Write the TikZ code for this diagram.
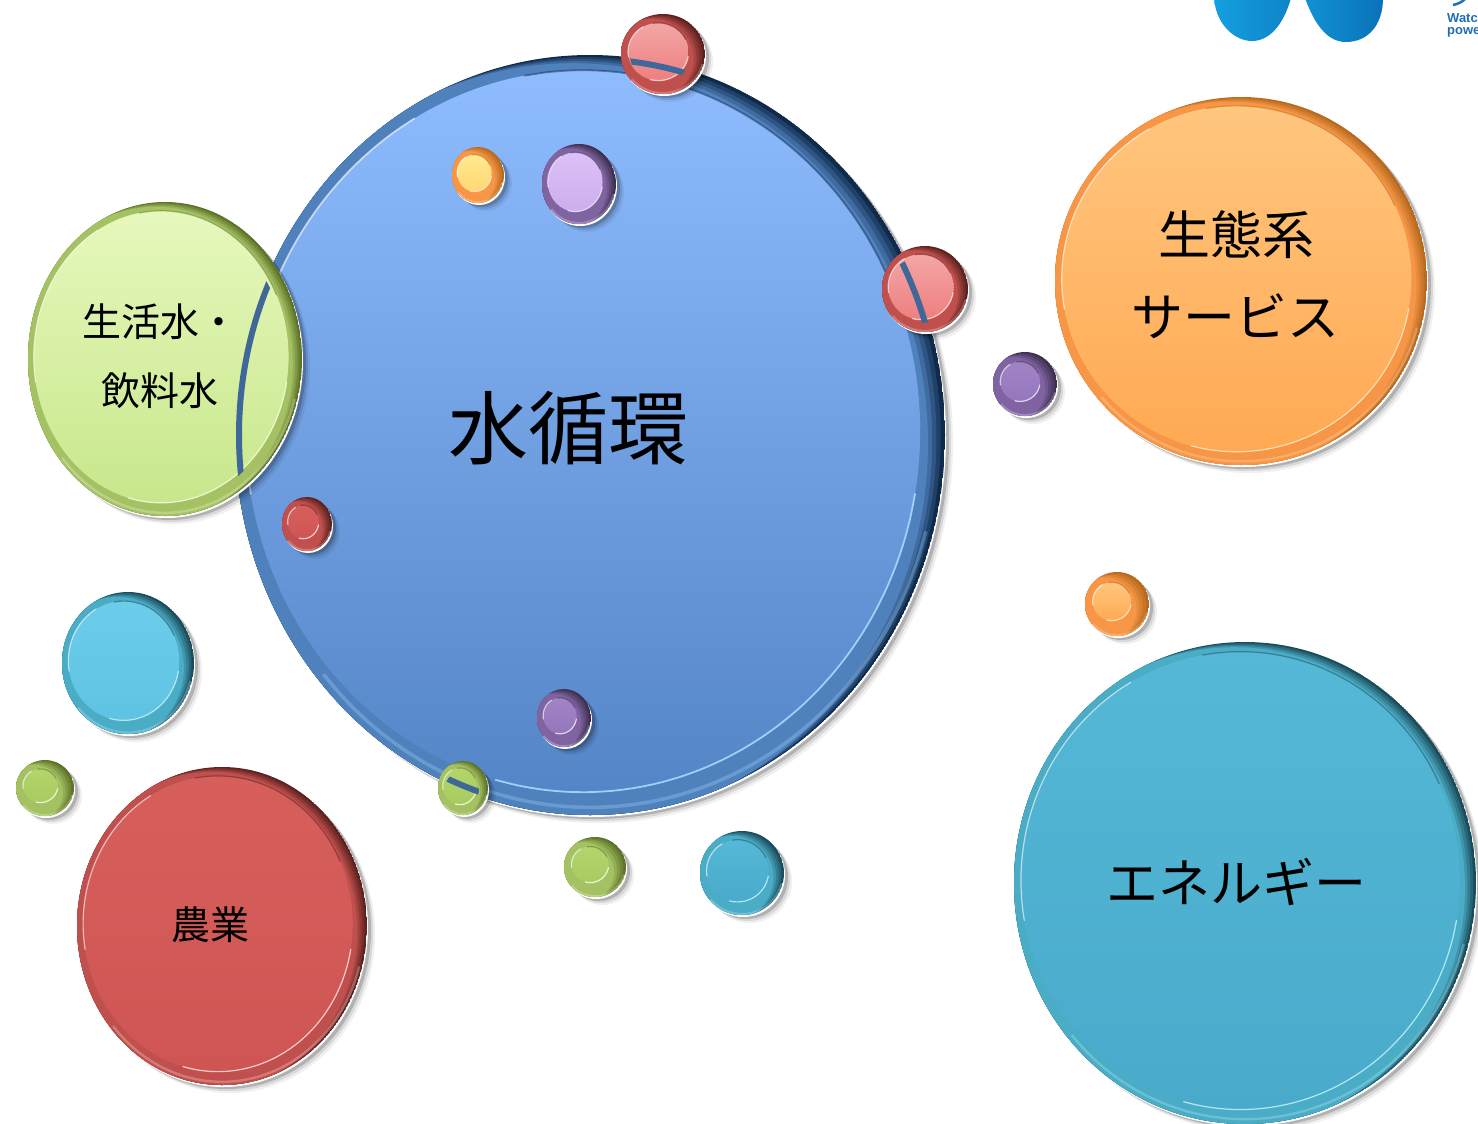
\documentclass[tikz,border=0pt]{standalone}
\usepackage{fontspec}
\setmainfont{Noto Sans CJK JP}
\newfontfamily\logofont{Liberation Sans}
% rims: rim colour, dark side, light edge
\definecolor{bluerim}{HTML}{4F81BD}\definecolor{bluedark}{HTML}{0F2A4A}\definecolor{bluelight}{HTML}{A9D8FF}
\definecolor{limerim}{HTML}{A4C263}\definecolor{limedark}{HTML}{5F7428}\definecolor{limelight}{HTML}{F2FAD8}
\definecolor{orangerim}{HTML}{F79646}\definecolor{orangedark}{HTML}{B86A1F}\definecolor{orangelight}{HTML}{FFE3B8}
\definecolor{cyanrim}{HTML}{4BACC6}\definecolor{cyandark}{HTML}{1B4E5C}\definecolor{cyanlight}{HTML}{B8F0FA}
\definecolor{redrim}{HTML}{C0504D}\definecolor{reddark}{HTML}{5E2220}\definecolor{redlight}{HTML}{FFD8D8}
\definecolor{purplerim}{HTML}{8064A2}\definecolor{purpledark}{HTML}{3F3151}\definecolor{purplelight}{HTML}{EBDDFA}
% bodies: top and bottom of the gradient
\definecolor{skytop}{HTML}{8EBCFF}\definecolor{skybot}{HTML}{5485C6}
\definecolor{paletop}{HTML}{E6F8BC}\definecolor{palebot}{HTML}{C8E78C}
\definecolor{ambertop}{HTML}{FFC67E}\definecolor{amberbot}{HTML}{FFA953}
\definecolor{seatop}{HTML}{54B8D6}\definecolor{seabot}{HTML}{4AAACB}
\definecolor{aquatop}{HTML}{6CCDEA}\definecolor{aquabot}{HTML}{5EC3E2}
\definecolor{bricktop}{HTML}{D65F5C}\definecolor{brickbot}{HTML}{CE5553}
\definecolor{pinktop}{HTML}{F3A6A6}\definecolor{pinkbot}{HTML}{EE7F7F}
\definecolor{yolktop}{HTML}{FFE98F}\definecolor{yolkbot}{HTML}{FFD873}
\definecolor{liltop}{HTML}{DCC0F8}\definecolor{lilbot}{HTML}{CDAEEC}
\definecolor{plumtop}{HTML}{A184C6}\definecolor{plumbot}{HTML}{9576BC}
\definecolor{mosstop}{HTML}{B4D46C}\definecolor{mossbot}{HTML}{A8CB60}
\definecolor{logoblue}{HTML}{1F6FB5}
\definecolor{logolight}{HTML}{149FE0}
\definecolor{logodeep}{HTML}{0A72B8}
\tikzset{
  bigtext/.style={font=\fontsize{#1}{#1}\selectfont,text=black,inner sep=0pt},
  logotext/.style={font=\logofont\bfseries\fontsize{13}{13}\selectfont,text=logoblue,inner sep=0pt,anchor=west},
}
% \bubble{rim}{body}{x}{y}{rx}{ry}{share of the inner disc}
\newcommand{\bubble}[7]{%
  \foreach \off/\op in {8/.06,6/.1,4/.18}
    \fill[black,opacity=\op] ({#3+\off},{#4+\off}) ellipse [x radius=#5,y radius=#6];
  \fill[white] ({#3+1},{#4+2}) ellipse [x radius=#5,y radius=#6];
  \begin{scope}[shift={(#3,#4)},x=#5pt,y=#6pt]
    \pgfmathsetmacro{\inr}{#7}
    \pgfmathsetmacro{\inx}{-(1-#7)*.4}
    \pgfmathsetmacro{\iny}{(1-#7)*.2}
    \pgfmathsetmacro{\glow}{max(1.2,(1-#7)*#5*.1)}
    \pgfmathsetmacro{\slip}{(1-#7)*.24}
    \begin{scope}
      \clip (0,0) circle (1);
      \fill[#1dark] (0,0) circle (1);
      % the dark side tapers off round the edge
      \foreach \k/\mix in {1/25,2/50,3/75,4/100}
        \fill[#1rim!\mix!#1dark] ({-\k*\slip},{-.45*\k*\slip}) circle (1);
    \end{scope}
    \draw[#1light,line width={2*\glow pt},opacity=.3] plot[smooth,domain=-140:-15,samples=30]
      ({.98*cos(\x)},{.98*sin(\x)});
    \shade[top color=#2top,bottom color=#2bot] (\inx,\iny) circle ({\inr});
    \draw[#1dark,line width=\glow pt,opacity=.5] plot[smooth,domain=25:100,samples=20]
      ({\inx+\inr*cos(\x)},{\iny+\inr*sin(\x)});
    \draw[#1light,line width=\glow pt,line cap=round,opacity=.9] plot[smooth,domain=-105:-10,samples=25]
      ({\inx+\inr*cos(\x)},{\iny+\inr*sin(\x)});
    \draw[white,line width=\glow pt,opacity=.6,line cap=round] plot[smooth,domain=120:190,samples=20]
      ({\inx+\inr*cos(\x)},{\iny+\inr*sin(\x)});
  \end{scope}%
}
% the big blue edge, seen through a bubble placed on it
\newcommand{\rimline}[4]{%
  \begin{scope}
    \clip (#1,#2) ellipse [x radius=#3,y radius=#4];
    \draw[bluerim!80!black,line width=6pt] (590,435) ellipse [x radius=351,y radius=376];
  \end{scope}%
}
\begin{document}
\begin{tikzpicture}[x=1pt,y=-1pt]
  \useasboundingbox (0,0) rectangle (1478,1124);
  \clip (0,0) rectangle (1478,1124);
  % logo, cut by the page
  \shade[left color=logolight,right color=logodeep!60!logolight]
    (1214,-2) .. controls (1216,25) and (1235,41) .. (1252,41) .. controls (1272,41) and (1285,20) .. (1291,-2) -- cycle;
  \shade[left color=logolight!70!logodeep,right color=logodeep]
    (1305,-2) .. controls (1313,20) and (1325,42) .. (1346,42) .. controls (1368,42) and (1383,25) .. (1383,-2) -- cycle;
  \draw[logoblue,line width=2.5pt] (1453,5) .. controls (1458,4) and (1462,2) .. (1465,-1);
  \node[logotext] (watch) at (1447,18) {Watch};
  \node[logotext] (power) at (1447,32) {power};
  % main bubbles
  \bubble{blue}{sky}{590}{435}{355}{380}{.95}
  \bubble{lime}{pale}{165}{359}{137}{157}{.93}
  \rimline{160}{361}{127}{146}
  \bubble{orange}{amber}{1241}{281}{186}{184}{.94}
  \bubble{cyan}{sea}{1245}{883}{231}{241}{.95}
  \bubble{red}{brick}{222}{926}{145}{159}{.93}
  \bubble{cyan}{aqua}{128}{663}{66}{71}{.84}
  % small bubbles
  \bubble{red}{pink}{663}{54}{42}{40}{.72}
  \rimline{660}{55}{30}{29}
  \bubble{orange}{yolk}{478}{175}{26}{28}{.66}
  \bubble{purple}{lil}{579}{184}{37}{40}{.74}
  \bubble{red}{pink}{925}{289}{43}{43}{.76}
  \rimline{921}{290}{33}{33}
  \bubble{purple}{plum}{1025}{384}{32}{32}{.62}
  \bubble{orange}{amber}{1117}{604}{32}{32}{.6}
  \bubble{red}{brick}{307}{524}{25}{27}{.62}
  \bubble{purple}{plum}{564}{718}{27}{29}{.62}
  \bubble{lime}{moss}{463}{788}{25}{27}{.68}
  \rimline{462}{789}{17}{18}
  \bubble{lime}{moss}{45}{788}{29}{28}{.6}
  \bubble{lime}{moss}{595}{867}{31}{30}{.6}
  \bubble{cyan}{sea}{742}{873}{42}{42}{.74}
  % labels
  \node[bigtext=80] (cycle) at (568,428) {水循環};
  \node[bigtext=39] (life) at (160,322) {生活水・};
  \node[bigtext=39] (drink) at (160,391) {飲料水};
  \node[bigtext=52] (eco) at (1236,235) {生態系};
  \node[bigtext=52] (service) at (1235,316) {サービス};
  \node[bigtext=52] (energy) at (1236,882) {エネルギー};
  \node[bigtext=39] (farm) at (210,925) {農業};
\end{tikzpicture}
\end{document}
